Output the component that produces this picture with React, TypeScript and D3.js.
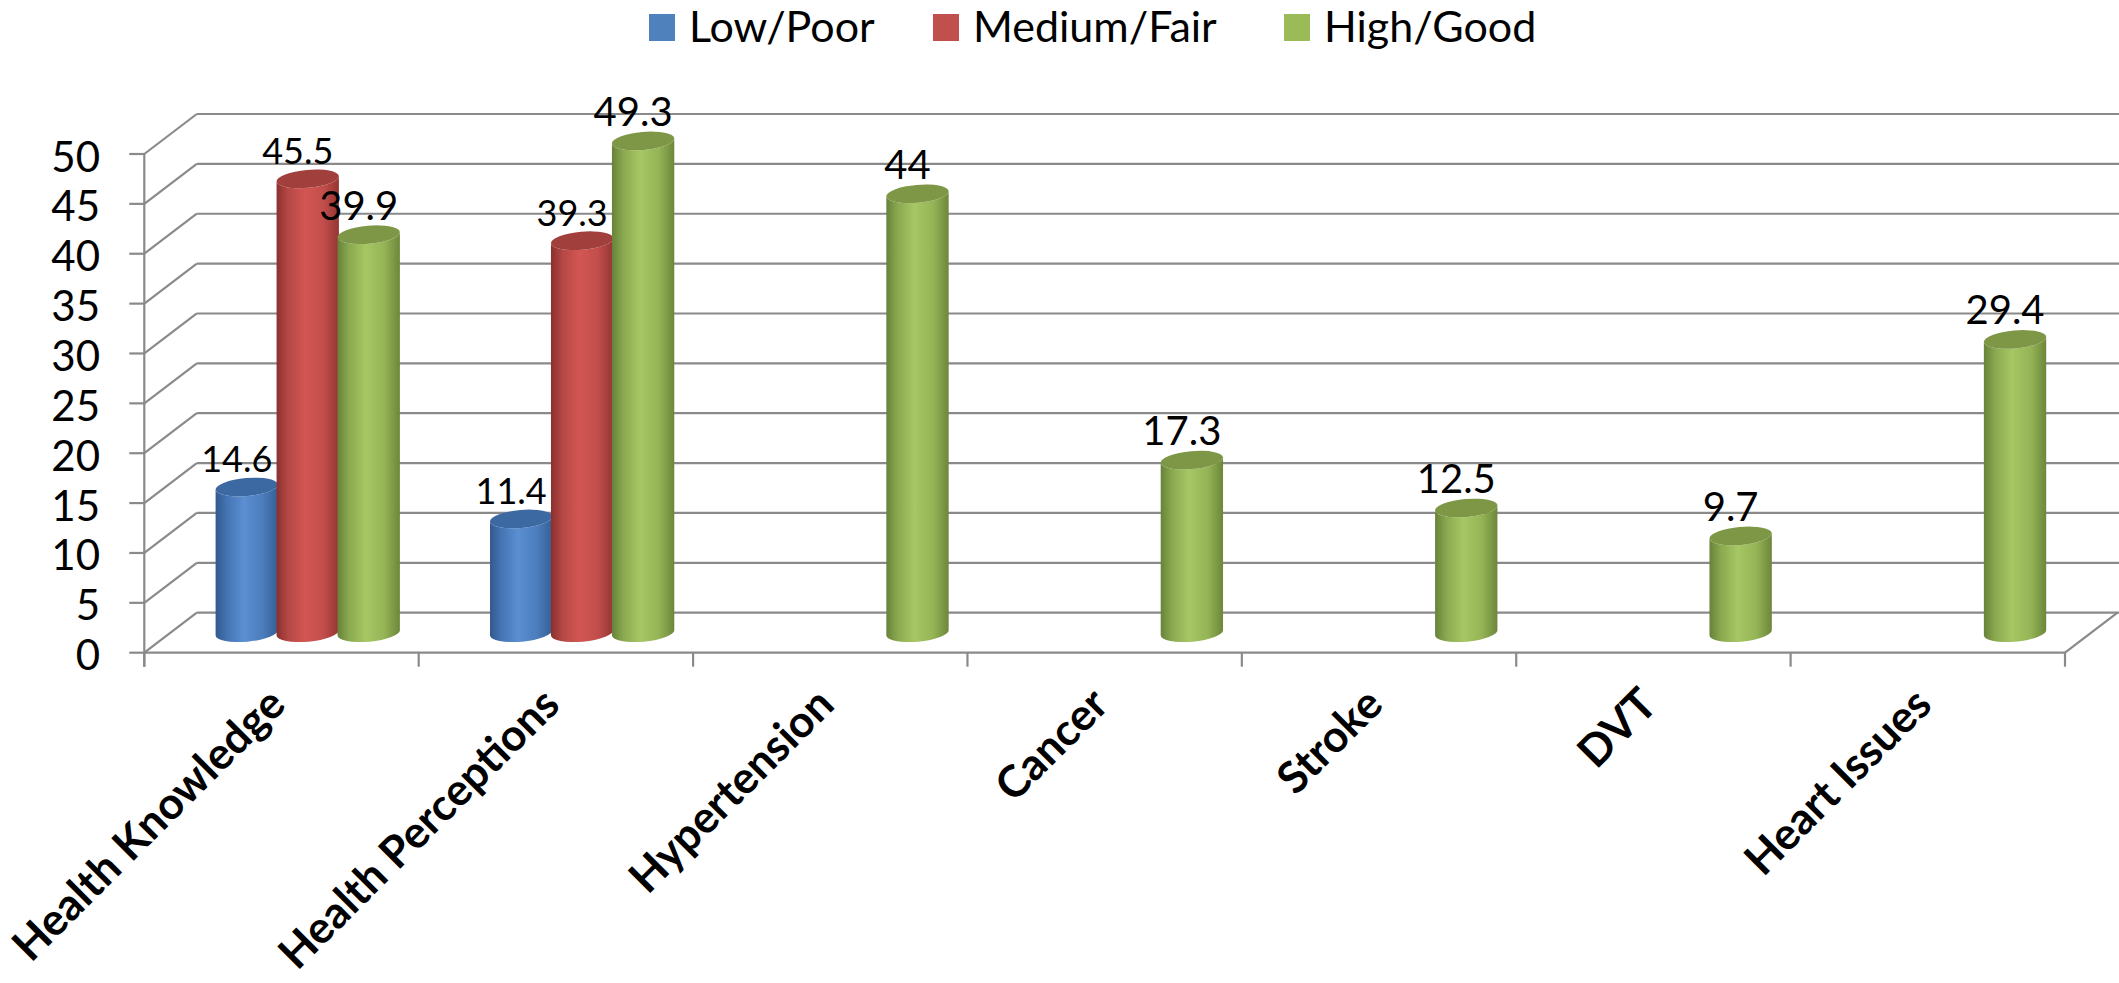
import React from 'react';
import * as d3 from 'd3';

// Chart data
const categories = ['Health Knowledge', 'Health Perceptions', 'Hypertension', 'Cancer', 'Stroke', 'DVT', 'Heart Issues'];
const seriesNames = ['Low/Poor', 'Medium/Fair', 'High/Good'];
const lowPoor: (number | null)[] = [14.6, 11.4, null, null, null, null, null];
const mediumFair: (number | null)[] = [45.5, 39.3, null, null, null, null, null];
const highGood: (number | null)[] = [39.9, 49.3, 44, 17.3, 12.5, 9.7, 29.4];
const yTicks = [0, 5, 10, 15, 20, 25, 30, 35, 40, 45, 50];

const seriesValues = [lowPoor, mediumFair, highGood];

// Styling per series: body gradient stops + top cap colour
const seriesStyles = [
  { id: 'gBlue', legend: '#4F81BD', top: '#3d69a2', stops: ['#31598c', '#4474b3', '#5b8fd2', '#4c7dbd', '#355f95'] },
  { id: 'gRed', legend: '#C0504D', top: '#a13f3c', stops: ['#8a302e', '#b44744', '#d25653', '#c24e4b', '#943532'] },
  { id: 'gGreen', legend: '#9BBB59', top: '#7d9747', stops: ['#67823a', '#8aa84f', '#a6c764', '#95b456', '#6c873a'] },
];

const W = 2119;
const H = 983;
const FONT = "Lato, 'Open Sans', 'DejaVu Sans', sans-serif";
const GRID = '#8a8a8a';

const plotLeft = 144.3;
const plotRight = 2065;
const depthX = 52.5;
const depthY = -40;

const y = d3.scaleLinear().domain([0, 50]).range([652.7, 154]);
const x0 = d3.scaleBand<string>().domain(categories).range([plotLeft, plotRight]).paddingInner(0).paddingOuter(0);
const barW = x0.bandwidth() / 4.5;
const x1 = d3.scaleBand<string>().domain(seriesNames).range([-1.5 * barW, 1.5 * barW]).padding(0);

const rx = barW / 2 + 0.8;
const ry = 9;
const tilt = -5; // degrees
const tiltRad = (tilt * Math.PI) / 180;
const ax = rx * Math.cos(tiltRad);
const ay = rx * Math.sin(tiltRad);

function cylinderBody(cx: number, topY: number, botY: number) {
  const lTop = [cx - ax, topY - ay];
  const lBot = [cx - ax, botY - ay];
  const rBot = [cx + ax, botY + ay];
  const rTop = [cx + ax, topY + ay];
  return `M${lTop[0]},${lTop[1]} L${lBot[0]},${lBot[1]} A${rx},${ry} ${tilt} 0 0 ${rBot[0]},${rBot[1]} L${rTop[0]},${rTop[1]} A${rx},${ry} ${tilt} 0 1 ${lTop[0]},${lTop[1]} Z`;
}

export default function App() {
  const backLeft = plotLeft + depthX;
  const y0 = y(0);
  const boundaries = [...categories.map((c) => x0(c) as number), plotRight];

  const bars: React.ReactNode[] = [];
  const labels: React.ReactNode[] = [];
  categories.forEach((c, ci) => {
    seriesNames.forEach((s, si) => {
      const v = seriesValues[si][ci];
      if (v == null) return;
      const cx = (x0(c) as number) + x0.bandwidth() / 2 + depthX / 2 + (x1(s) as number) + barW / 2;
      const topY = y(v) + depthY / 2;
      const botY = y(0) + depthY / 2;
      const st = seriesStyles[si];
      bars.push(
        <g key={`b-${ci}-${si}`}>
          <path d={cylinderBody(cx, topY, botY)} fill={`url(#${st.id})`} />
          <ellipse cx={cx} cy={topY} rx={rx} ry={ry} transform={`rotate(${tilt},${cx},${topY})`} fill={st.top} />
        </g>
      );
      labels.push(
        <text
          key={`l-${ci}-${si}`}
          x={cx - 10}
          y={topY - 15}
          textAnchor="middle"
          fontFamily={FONT}
          fontSize={si === 2 ? 40 : 36}
          fill="#000"
        >
          {v}
        </text>
      );
    });
  });

  const legendX = [649, 933, 1284];

  return (
    <svg width={W} height={H} style={{ position: 'absolute', left: 0, top: 0, background: '#fff' }}>
      <defs>
        {seriesStyles.map((st) => (
          <linearGradient key={st.id} id={st.id} x1="0" x2="1" y1="0" y2="0">
            <stop offset="0" stopColor={st.stops[0]} />
            <stop offset="0.18" stopColor={st.stops[1]} />
            <stop offset="0.45" stopColor={st.stops[2]} />
            <stop offset="0.75" stopColor={st.stops[3]} />
            <stop offset="1" stopColor={st.stops[4]} />
          </linearGradient>
        ))}
      </defs>
      <rect x={0} y={0} width={W} height={H} fill="#fff" />

      {/* back wall gridlines and side wall diagonals */}
      <g stroke={GRID} strokeWidth={2.2} fill="none">
        {yTicks.map((t) => (
          <g key={`g-${t}`}>
            <line x1={backLeft} x2={W} y1={y(t) + depthY} y2={y(t) + depthY} />
            <line x1={plotLeft} y1={y(t)} x2={backLeft} y2={y(t) + depthY} />
            <line x1={plotLeft - 15} x2={plotLeft} y1={y(t)} y2={y(t)} />
          </g>
        ))}
        {/* vertical value axis */}
        <line x1={plotLeft} x2={plotLeft} y1={y(50)} y2={y0 + 14} />
        {/* floor front edge and right edge */}
        <line x1={plotLeft} x2={plotRight} y1={y0} y2={y0} />
        <line x1={plotRight} y1={y0} x2={plotRight + depthX} y2={y0 + depthY} />
        {boundaries.map((bx, i) => (
          <line key={`t-${i}`} x1={bx} x2={bx} y1={y0} y2={y0 + 14} />
        ))}
      </g>

      {bars}
      {labels}

      {/* value axis labels */}
      {yTicks.map((t) => (
        <text key={`yl-${t}`} x={100} y={y(t) + 17.5} textAnchor="end" fontFamily={FONT} fontSize={42} fill="#000">
          {t}
        </text>
      ))}

      {/* category labels */}
      {categories.map((c) => {
        const cx = (x0(c) as number) + x0.bandwidth() / 2 + 6;
        return (
          <text
            key={`xl-${c}`}
            transform={`translate(${cx},707) rotate(-45)`}
            textAnchor="end"
            fontFamily={FONT}
            fontWeight="bold"
            fontSize={44}
            fill="#000"
          >
            {c}
          </text>
        );
      })}

      {/* legend */}
      {seriesNames.map((s, i) => (
        <g key={`lg-${s}`}>
          <rect x={legendX[i]} y={14} width={26} height={27} fill={seriesStyles[i].legend} />
          <text x={legendX[i] + 40} y={42} fontFamily={FONT} fontSize={43} fill="#000">
            {s}
          </text>
        </g>
      ))}
    </svg>
  );
}
